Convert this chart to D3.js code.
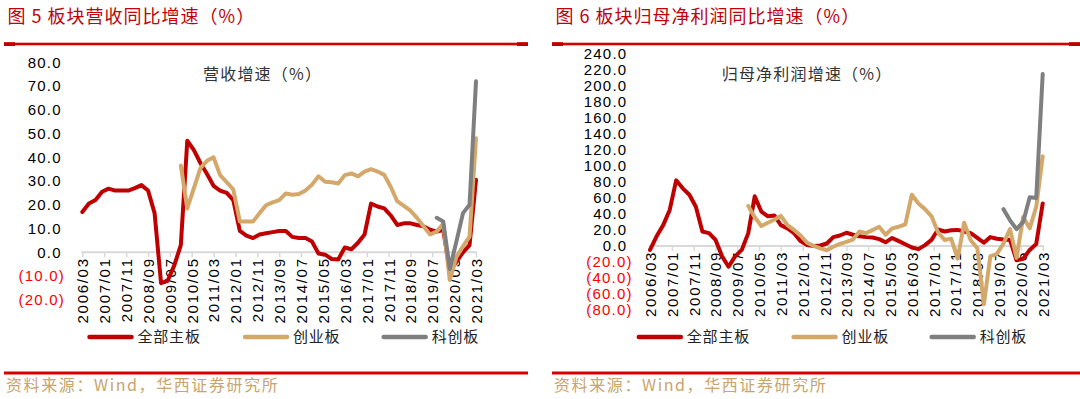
<!DOCTYPE html>
<html>
<head>
<meta charset="utf-8">
<script src="https://cdn.jsdelivr.net/npm/d3@7"></script>
<style>
  body { margin: 0; background: #fff; }
  svg { display: block; }
</style>
</head>
<body>
<svg id="chart" width="1080" height="399"></svg>
<script>
// quarterly report dates
const quarters = [
  "2006/03","2006/06","2006/09","2006/12","2007/03","2007/06","2007/09","2007/12",
  "2008/03","2008/06","2008/09","2008/12","2009/03","2009/06","2009/09","2009/12",
  "2010/03","2010/06","2010/09","2010/12","2011/03","2011/06","2011/09","2011/12",
  "2012/03","2012/06","2012/09","2012/12","2013/03","2013/06","2013/09","2013/12",
  "2014/03","2014/06","2014/09","2014/12","2015/03","2015/06","2015/09","2015/12",
  "2016/03","2016/06","2016/09","2016/12","2017/03","2017/06","2017/09","2017/12",
  "2018/03","2018/06","2018/09","2018/12","2019/03","2019/06","2019/09","2019/12",
  "2020/03","2020/06","2020/09","2020/12","2021/03"
];
const tickLabels = [
  "2006/03","2007/01","2007/11","2008/09","2009/07","2010/05","2011/03","2012/01",
  "2012/11","2013/09","2014/07","2015/05","2016/03","2017/01","2017/11","2018/09",
  "2019/07","2020/05","2021/03"
];
const seriesNames = ["全部主板", "创业板", "科创板"];

// 图5 营收增速 (%)
const revMain = [17,20.5,22,25.5,26.8,26,26,26, 27,28.3,26,16.5,-13,-12,-5.5,3,
  47,43,37.5,33,28,26,25,22, 9,7,6,7.5,8,8.5,9,9,
  6.5,6,6,4.5,-0.5,-1,-2.8,-3, 2,1.3,4,7.5,20.5,19.3,18.5,15.5,
  11.5,12.2,12.2,11.5,11,9.5,8.7,9.4, -8,-4,0,3,30.5];
const revGem = [null,null,null,null,null,null,null,null, null,null,null,null,null,null,null,36.5,
  18.5,27,35.5,38.5,40,32.5,29.5,26.5, 13,13,13,16.5,19.8,21,22,24.8,
  24.2,24.5,26,28.5,32,29.7,29.5,29, 32.5,33.2,32,34,35,34,32.6,27.5,
  21.5,19.5,17.5,14.5,11,7.5,8.7,12, -11.7,-2,2.5,6.6,48];
const revStar = [null,null,null,null,null,null,null,null, null,null,null,null,null,null,null,null,
  null,null,null,null,null,null,null,null, null,null,null,null,null,null,null,null,
  null,null,null,null,null,null,null,null, null,null,null,null,null,null,null,null,
  null,null,null,null,null,null,14.5,13, -7,4.5,16.5,20,72];

// 图6 归母净利润增速 (%)
const profitMain = [-5,12,26,45,82,72,64,49, 18,16,7.5,-13,-26,-13,-5,16,
  62,43,37,38,26,22,16,6, 1,0,0.5,3,11,13,16.5,14,
  12,11,10.5,8.5,4.5,10,6,2, -2,-4,1,7.5,20.5,18,19.5,20,
  18,16,10,4,11,9,8,7.5, -18,-16,-5,2.5,53];
const profitGem = [null,null,null,null,null,null,null,null, null,null,null,null,null,null,null,50,
  36,25,29,33,37.5,26,20,13, 4,0,-3,-5.5,-1,2.5,5,8,
  18,16,20,24,14,22,24,27, 64,53,46,37,17,7.5,9,-16,
  29,7,-3,-73,-13,-10,3,21, -15,36,22,49,112];
const profitStar = [null,null,null,null,null,null,null,null, null,null,null,null,null,null,null,null,
  null,null,null,null,null,null,null,null, null,null,null,null,null,null,null,null,
  null,null,null,null,null,null,null,null, null,null,null,null,null,null,null,null,
  null,null,null,null,null,null,46,32, 21,30,61,60,215];

const colors = ["#c00000", "#d4a86a", "#7f7f7f"];
const cjk = "'Noto Sans CJK SC', sans-serif";
const latin = "'Liberation Sans', Arial, sans-serif";

const svg = d3.select("#chart");
const parse = d3.timeParse("%Y/%m");
const fmt = v => v < 0 ? "(" + Math.abs(v).toFixed(1) + ")" : v.toFixed(1);

const panels = [
  {
    left: 4, right: 528,
    title: "图 5 板块营收同比增速（%）", sub: "营收增速（%）", subX: 203,
    xr: [82.3, 476], yd: [-20, 80], yr: [299.8, 62.3], step: 10,
    posEdge: 61.7, negEdge: 65, legendX: [89.5, 245, 383.7],
    series: [revMain, revGem, revStar]
  },
  {
    left: 552, right: 1080,
    title: "图 6 板块归母净利润同比增速（%）", sub: "归母净利润增速（%）", subX: 721.7,
    xr: [650, 1042.7], yd: [-80, 240], yr: [309.9, 54], step: 20,
    posEdge: 627.3, negEdge: 632.7, legendX: [638.8, 793.6, 931.7],
    series: [profitMain, profitGem, profitStar]
  }
];

panels.forEach(p => {
  const g = svg.append("g");

  // header
  g.append("text")
    .attr("x", p.left + 3.5).attr("y", 22.5)
    .attr("fill", "#c0000b")
    .style("font-family", cjk).style("font-size", "18px").style("letter-spacing", "1px")
    .text(p.title);
  g.append("rect").attr("x", p.left).attr("y", 42.7).attr("width", p.right - p.left).attr("height", 2.6)
    .attr("fill", "#d40000");
  g.append("rect").attr("x", p.left).attr("y", 42.2).attr("width", 11).attr("height", 3.8).attr("fill", "#c00000");
  g.append("rect").attr("x", p.right - 11).attr("y", 42.2).attr("width", 11).attr("height", 3.8).attr("fill", "#c00000");

  // footer
  g.append("rect").attr("x", p.left).attr("y", 371.5).attr("width", p.right - p.left).attr("height", 3)
    .attr("fill", "#d40000");
  g.append("text")
    .attr("x", p.left + 2).attr("y", 390.5)
    .attr("fill", "#c9a46c")
    .style("font-family", cjk).style("font-size", "16px").style("letter-spacing", "1.6px")
    .text("资料来源：Wind，华西证券研究所");

  const x = d3.scaleTime()
    .domain([parse(quarters[0]), parse(quarters[quarters.length - 1])])
    .range(p.xr);
  const y = d3.scaleLinear().domain(p.yd).range(p.yr);

  // y labels (no axis line in the original)
  const yTicks = d3.range(p.yd[0], p.yd[1] + p.step / 2, p.step);
  g.append("g").selectAll("text").data(yTicks).join("text")
    .attr("x", d => d < 0 ? p.negEdge : p.posEdge)
    .attr("y", d => y(d))
    .attr("dy", "0.36em")
    .attr("text-anchor", "end")
    .attr("fill", d => d < 0 ? "#ff0000" : "#000")
    .style("font-family", latin).style("font-size", "15px").style("letter-spacing", "1.2px")
    .text(fmt);

  // x axis at zero
  const xAxis = d3.axisBottom(x)
    .tickValues(tickLabels.map(parse))
    .tickFormat(d3.timeFormat("%Y/%m"))
    .tickSize(5)
    .tickPadding(0);
  const ax = g.append("g")
    .attr("transform", `translate(0,${y(0)})`)
    .call(xAxis);
  ax.select(".domain").attr("stroke", "#d9d9d9").attr("stroke-width", 2)
    .attr("d", `M${p.xr[0] - 1},0H${p.xr[1] + 1}`);
  ax.selectAll(".tick line").attr("stroke", "#d9d9d9").attr("stroke-width", 1.5);
  ax.selectAll(".tick text")
    .attr("transform", "rotate(-90)")
    .attr("x", -5).attr("y", 0).attr("dy", "0.36em")
    .attr("text-anchor", "end")
    .attr("fill", "#000")
    .style("font-family", latin).style("font-size", "15px").style("letter-spacing", "1.7px");

  // inner title
  g.append("text")
    .attr("x", p.subX).attr("y", 80)
    .attr("fill", "#333")
    .style("font-family", cjk).style("font-size", "16px").style("letter-spacing", "1.2px")
    .text(p.sub);

  // lines
  const line = d3.line()
    .defined(d => d.v != null)
    .x(d => x(d.t))
    .y(d => y(d.v));
  p.series.forEach((vals, k) => {
    const pts = quarters.map((q, i) => ({ t: parse(q), v: vals[i] }));
    g.append("path")
      .datum(pts)
      .attr("fill", "none")
      .attr("stroke", colors[k])
      .attr("stroke-width", 4)
      .attr("stroke-linejoin", "round")
      .attr("stroke-linecap", "round")
      .attr("d", line);
  });

  // legend
  const lg = g.append("g");
  seriesNames.forEach((name, k) => {
    const lx = p.legendX[k];
    lg.append("line")
      .attr("x1", lx).attr("x2", lx + 42).attr("y1", 337).attr("y2", 337)
      .attr("stroke", colors[k]).attr("stroke-width", 4.5).attr("stroke-linecap", "round");
    lg.append("text")
      .attr("x", lx + 48).attr("y", 337).attr("dy", "0.36em")
      .attr("fill", "#222")
      .style("font-family", cjk).style("font-size", "15px").style("letter-spacing", "0.8px")
      .text(name);
  });
});
</script>
</body>
</html>
